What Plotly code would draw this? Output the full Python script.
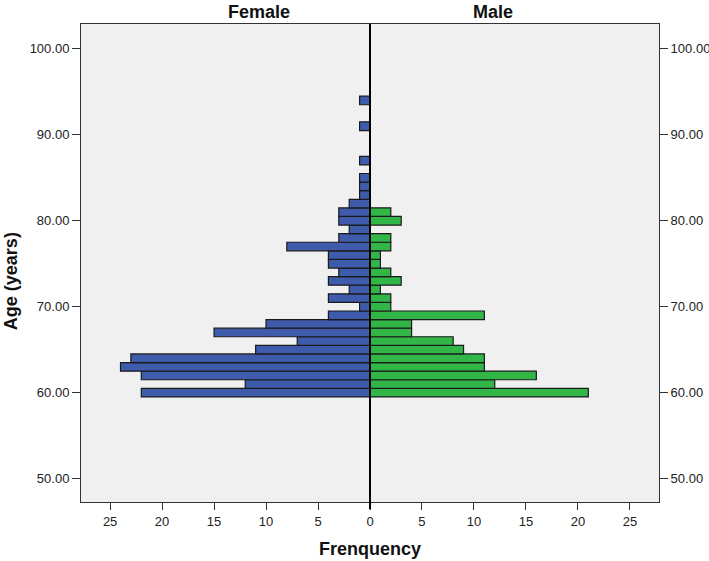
import plotly.graph_objects as go

ages_female = [60, 61, 62, 63, 64, 65, 66, 67, 68, 69, 70, 71, 72, 73, 74, 75, 76, 77, 78, 79, 80, 81, 82, 83, 84, 85, 87, 91, 94]
female_counts = [22, 12, 22, 24, 23, 11, 7, 15, 10, 4, 1, 4, 2, 4, 3, 4, 4, 8, 3, 2, 3, 3, 2, 1, 1, 1, 1, 1, 1]

ages_male = [60, 61, 62, 63, 64, 65, 66, 67, 68, 69, 70, 71, 72, 73, 74, 75, 76, 77, 78, 80, 81]
male_counts = [21, 12, 16, 11, 11, 9, 8, 4, 4, 11, 2, 2, 1, 3, 2, 1, 1, 2, 2, 3, 2]

x_ticks = [-25, -20, -15, -10, -5, 0, 5, 10, 15, 20, 25]
x_tick_labels = ["25", "20", "15", "10", "5", "0", "5", "10", "15", "20", "25"]
y_ticks = [50, 60, 70, 80, 90, 100]

FONT = "Liberation Sans, Arial, sans-serif"

fig = go.Figure()
fig.add_trace(go.Bar(
    y=ages_female, x=[-v for v in female_counts], orientation="h", width=1,
    marker=dict(color="#3F5BAB", line=dict(color="#1a1a1a", width=1.2)),
    name="Female", showlegend=False, hoverinfo="skip"))
fig.add_trace(go.Bar(
    y=ages_male, x=male_counts, orientation="h", width=1,
    marker=dict(color="#33B648", line=dict(color="#1a1a1a", width=1.2)),
    name="Male", showlegend=False, hoverinfo="skip"))
# invisible trace for right axis
fig.add_trace(go.Scatter(x=[0], y=[75], yaxis="y2", mode="markers",
                         marker=dict(opacity=0), showlegend=False, hoverinfo="skip"))

yr = [47.27, 102.9]
fig.update_layout(
    width=709, height=561,
    margin=dict(l=81, r=50, t=24, b=59, autoexpand=False),
    paper_bgcolor="white", plot_bgcolor="#F0F0F0",
    barmode="overlay",
    font=dict(family=FONT, size=13, color="#222"),
    xaxis=dict(range=[-27.8, 27.8], tickvals=x_ticks, ticktext=x_tick_labels,
               ticks="outside", ticklen=7, tickcolor="#333", tickwidth=1,
               showline=True, linecolor="#333", linewidth=1, mirror=True,
               showgrid=False, zeroline=False, tickfont=dict(size=13)),
    yaxis=dict(range=yr, tickvals=y_ticks, tickformat=".2f",
               ticks="outside", ticklen=8, tickcolor="#333", tickwidth=1,
               showline=True, linecolor="#333", linewidth=1, mirror=True,
               showgrid=False, zeroline=False, tickfont=dict(size=13)),
    yaxis2=dict(range=yr, tickvals=y_ticks, tickformat=".2f", overlaying="y", side="right",
                ticks="outside", ticklen=8, tickcolor="#333", tickwidth=1,
                showline=False, showgrid=False, zeroline=False,
                tickfont=dict(size=13)),
)
fig.add_shape(type="line", xref="x", yref="paper", x0=0, x1=0, y0=-0.015, y1=1,
              line=dict(color="black", width=2))
title_font = dict(size=18, color="#111", family=FONT)
fig.add_annotation(text="<b>Female</b>", xref="paper", yref="paper", x=0.25, y=1,
                   yanchor="middle", yshift=12, showarrow=False, font=title_font)
fig.add_annotation(text="<b>Male</b>", xref="paper", yref="paper", x=0.75, y=1,
                   yanchor="middle", yshift=12, showarrow=False, font=title_font)
fig.add_annotation(text="<b>Frenquency</b>", xref="paper", yref="paper", x=0.5, y=0,
                   yanchor="middle", yshift=-47, showarrow=False, font=title_font)
fig.add_annotation(text="<b>Age (years)</b>", xref="paper", yref="paper", x=0, y=0.462,
                   xanchor="center", yanchor="middle", xshift=-70, textangle=-90,
                   showarrow=False, font=title_font)

fig.write_html("out.html", config={"displayModeBar": False},
               post_script="document.body.style.margin='0';")
